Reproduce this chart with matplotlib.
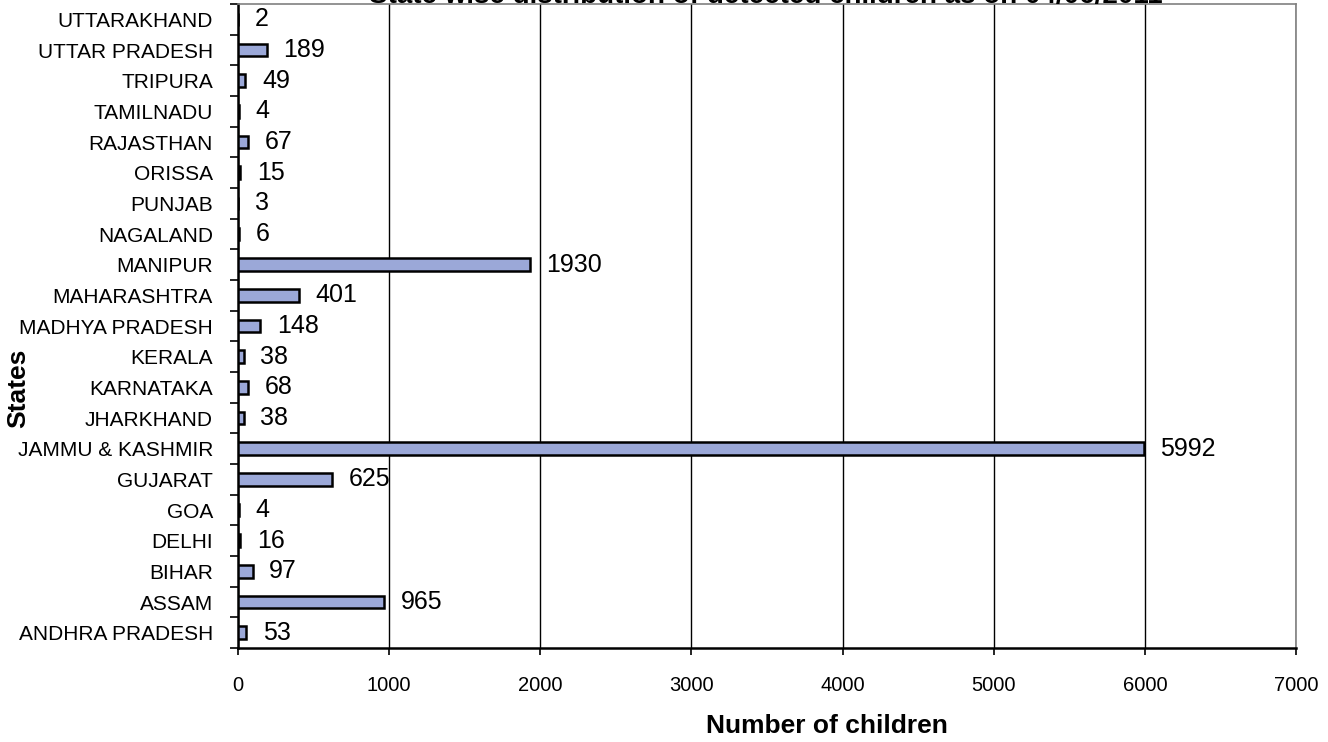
import matplotlib
matplotlib.use("Agg")
import matplotlib.pyplot as plt
import numpy as np

states = ["ANDHRA PRADESH", "ASSAM", "BIHAR", "DELHI", "GOA", "GUJARAT",
          "JAMMU & KASHMIR", "JHARKHAND", "KARNATAKA", "KERALA", "MADHYA PRADESH",
          "MAHARASHTRA", "MANIPUR", "NAGALAND", "PUNJAB", "ORISSA", "RAJASTHAN",
          "TAMILNADU", "TRIPURA", "UTTAR PRADESH", "UTTARAKHAND"]
children = [53, 965, 97, 16, 4, 625, 5992, 38, 68, 38, 148, 401, 1930, 6, 3, 15, 67,
            4, 49, 189, 2]
xticks = [0, 1000, 2000, 3000, 4000, 5000, 6000, 7000]

plt.rcParams['font.family'] = ['Liberation Sans', 'DejaVu Sans']

fig = plt.figure(figsize=(13.28, 7.42), dpi=100)
ax = fig.add_axes([238/1328, 1 - 648/742, (1296-238)/1328, (648-4)/742])

y = np.arange(len(states))
ax.barh(y, children, height=0.42, color='#9BA8D8', edgecolor='black', linewidth=1.8, zorder=3)
for yi, v in zip(y, children):
    ax.annotate(str(v), xy=(v, yi), xytext=(12, 0), textcoords='offset points',
                va='center', ha='left', fontsize=18, zorder=4)

ax.set_xlim(0, 7000)
ax.set_ylim(-0.5, len(states) - 0.5)
ax.set_xticks(xticks)
ax.set_xticklabels([str(t) for t in xticks], fontsize=14.5)
ax.set_yticks(y)
ax.set_yticklabels(states, fontsize=15)
ax.tick_params(axis='y', length=0, pad=18)
ax.set_yticks(np.arange(-0.5, len(states), 1), minor=True)
ax.tick_params(axis='y', which='minor', length=6, width=1.2, direction='out')
ax.tick_params(axis='x', length=5, width=1.2, pad=15)
ax.grid(axis='x', color='black', linewidth=1.0, zorder=0)

for s in ['left', 'bottom']:
    ax.spines[s].set_linewidth(1.8)
    ax.spines[s].set_color('black')
for s in ['top', 'right']:
    ax.spines[s].set_linewidth(1.2)
    ax.spines[s].set_color('#808080')

fig.text(827/1328, 1 - 726/742, "Number of children", ha='center', va='center',
         fontsize=19, fontweight='bold')
fig.text(18/1328, 1 - 388/742, "States", ha='center', va='center', rotation=90,
         fontsize=19, fontweight='bold')
fig.text(766/1328, 1.0 - 3/742, "State wise distribution of detected children as on 04/06/2011",
         ha='center', va='baseline', fontsize=20, fontweight='bold')

fig.savefig("out.png", dpi=100)
